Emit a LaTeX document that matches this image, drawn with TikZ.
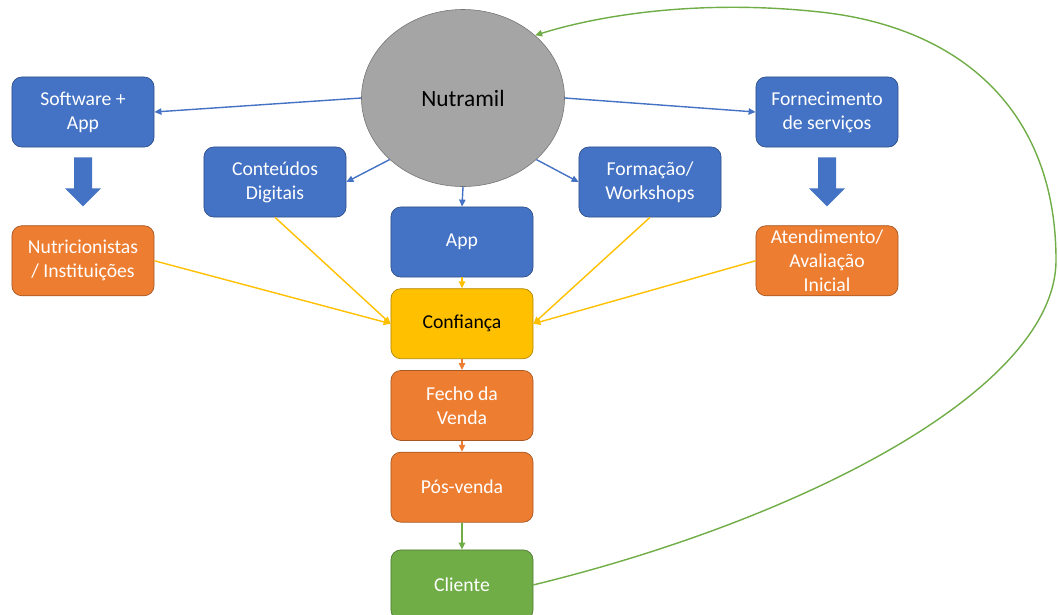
\documentclass[tikz,border=0pt]{standalone}
\usepackage{fontspec}
\setmainfont{Carlito}
\usetikzlibrary{arrows.meta, positioning, shapes.geometric}

\definecolor{offblue}{HTML}{4472C4}
\definecolor{offorange}{HTML}{ED7D31}
\definecolor{offyellow}{HTML}{FFC000}
\definecolor{offgreen}{HTML}{70AD47}
\definecolor{offgray}{HTML}{A5A5A5}

\begin{document}
\begin{tikzpicture}[
  x=0.025cm, y=-0.025cm,
  node distance=0.275cm,
  box/.style={rectangle, draw=#1!70!black, fill=#1, rounded corners=7pt, minimum width=3.55cm, minimum height=1.75cm, align=center, text=white, font=\fontsize{14}{17}\selectfont, inner sep=0.5pt, line width=0.5pt},
  arr/.style={-{Triangle[length=5pt, width=4.5pt]}, line width=1pt, draw=#1},
  blockarr/.style={fill=offblue}
]

  \useasboundingbox (0,0) rectangle (1058,614);

  \node[ellipse, draw=offgray!70!black, fill=offgray, minimum width=5.075cm, minimum height=4.425cm, font=\fontsize{16.6}{19}\selectfont] (nutramil) at (463,98) {Nutramil};

  \node[box=offblue] (soft) at (83,112) {Software +\\App};
  \node[box=offorange, below=1.95cm of soft] (nutri) {Nutricionistas\\/ Instituições};
  \node[box=offblue] (forn) at (827,112) {Fornecimento\\de serviços};
  \node[box=offorange, below=1.95cm of forn] (aten) {Atendimento/\\Avaliação\\Inicial};
  \node[box=offblue] (cont) at (275,182) {Conteúdos\\Digitais};
  \node[box=offblue] (forma) at (650,182) {Formação/\\Workshops};

  \node[box=offblue] (app) at (462,242) {App};
  \node[box=offyellow, text=black, below=of app] (conf) {Confiança};
  \node[box=offorange, below=of conf] (fecho) {Fecho da\\Venda};
  \node[box=offorange, below=of fecho] (pos) {Pós-venda};
  \node[box=offgreen, below=0.675cm of pos] (cliente) {Cliente};

  % block arrows
  \foreach \src in {soft, forn}
    \fill[blockarr] (\src.south) ++(-9,10) -- ++(18,0) -- ++(0,31) -- ++(9,0) -- ++(-18,18) -- ++(-18,-18) -- ++(9,0) -- cycle;

  \draw[arr=offblue] (nutramil.west) -- (soft.east);
  \draw[arr=offblue] (nutramil.east) -- (forn.west);
  \draw[arr=offblue] (nutramil.220) -- (cont.east);
  \draw[arr=offblue] (nutramil.320) -- (forma.west);
  \draw[arr=offblue] (nutramil.south) -- (app.north);

  \draw[arr=offyellow] (cont.south) -- (conf.west);
  \draw[arr=offyellow] (nutri.east) -- (conf.west);
  \draw[arr=offyellow] (forma.south) -- (conf.east);
  \draw[arr=offyellow] (aten.west) -- (conf.east);
  \draw[arr=offyellow] (app.south) -- (conf.north);

  \draw[arr=offorange] (conf.south) -- (fecho.north);
  \draw[arr=offorange] (fecho.south) -- (pos.north);
  \draw[arr=offgreen] (pos.south) -- (cliente.north);

  \draw[arr=offgreen] (cliente.east) .. controls (800,520) and (1056,390) .. (1056,260)
    .. controls (1056,110) and (960,27) .. (820,12)
    .. controls (700,-1) and (600,15) .. (nutramil.41);

\end{tikzpicture}
\end{document}
